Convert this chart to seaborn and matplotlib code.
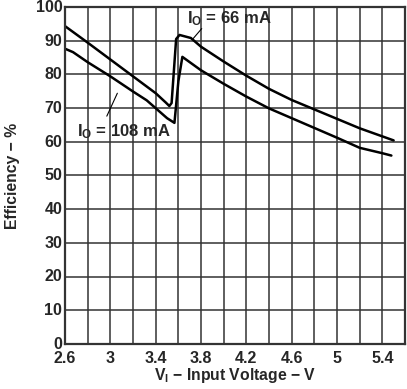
import numpy as np
import pandas as pd
import matplotlib
matplotlib.use("Agg")
import matplotlib.pyplot as plt
import matplotlib.transforms as mtransforms
import seaborn as sns

# efficiency curves
vin_66 = [2.6, 2.8, 3.0, 3.2, 3.4, 3.49, 3.52, 3.54, 3.58, 3.61, 3.71, 3.8,
          4.0, 4.2, 4.4, 4.6, 4.8, 5.0, 5.2, 5.4, 5.5]
eff_66 = [94.3, 89.4, 84.4, 79.4, 74.4, 71.6, 70.6, 71.5, 90.5, 91.7, 90.8, 88.2,
          83.8, 79.6, 75.7, 72.4, 69.6, 66.8, 64.0, 61.6, 60.4]

vin_108 = [2.6, 2.67, 2.8, 3.0, 3.2, 3.32, 3.5, 3.565, 3.6, 3.635, 3.8,
           4.0, 4.2, 4.4, 4.6, 4.8, 5.0, 5.2, 5.4, 5.48]
eff_108 = [87.6, 86.6, 83.6, 79.4, 74.9, 72.3, 67.0, 65.6, 78.0, 85.2, 81.2,
           77.2, 73.4, 69.9, 67.0, 64.1, 61.2, 58.2, 56.6, 55.9]

df = pd.concat([
    pd.DataFrame({"vin": vin_66, "eff": eff_66, "io": "66 mA"}),
    pd.DataFrame({"vin": vin_108, "eff": eff_108, "io": "108 mA"}),
])

sns.set_style("white")
plt.rcParams["font.family"] = ["Liberation Sans", "DejaVu Sans"]
plt.rcParams["font.weight"] = "bold"
plt.rcParams["mathtext.fontset"] = "custom"
plt.rcParams["mathtext.rm"] = "Liberation Sans:bold"
plt.rcParams["mathtext.it"] = "Liberation Sans:bold"
plt.rcParams["mathtext.bf"] = "Liberation Sans:bold"

fig = plt.figure(figsize=(4.07, 3.89), dpi=100)
ax = fig.add_axes([0.160, 0.116, 0.835, 0.866])

sns.lineplot(data=df, x="vin", y="eff", units="io", estimator=None, sort=False,
             color="black", linewidth=1.8, ax=ax)

ax.set_xlim(2.6, 5.6)
ax.set_ylim(0, 100)
ax.set_xticks(np.arange(2.6, 5.5, 0.4))
ax.set_xticklabels(["2.6", "3", "3.4", "3.8", "4.2", "4.6", "5", "5.4"])
ax.set_xticks(np.arange(2.6, 5.61, 0.2), minor=True)
ax.set_yticks(np.arange(0, 101, 10))
ax.grid(True, which="both", color="#333333", linewidth=1.1)
ax.set_axisbelow(True)
ax.tick_params(axis="x", which="both", length=0, labelsize=11.5, pad=5)
ax.tick_params(axis="y", which="both", length=0, labelsize=11.5, pad=2)
# y labels sit a little above their grid lines in the original
shift = mtransforms.ScaledTranslation(0, 0.8 / 72, fig.dpi_scale_trans)
for lbl in ax.get_yticklabels():
    lbl.set_transform(lbl.get_transform() + shift)
for s in ax.spines.values():
    s.set_color("#333333")
    s.set_linewidth(1.6)

ax.set_xlabel(r"V$_\mathregular{I}$ − Input Voltage − V", fontsize=11.3,
              fontweight="bold", labelpad=0)
ax.set_ylabel("Efficiency − %", fontsize=11.3, fontweight="bold", labelpad=11)

# curve labels with leader lines
ax.text(3.676, 96.6, r"I$_\mathregular{O}$ = 66 mA", fontsize=12, fontweight="bold",
        va="center", ha="left")
ax.annotate("", xy=(3.727, 90.5), xytext=(3.806, 93.6),
            arrowprops=dict(arrowstyle="-", color="black", lw=0.8,
                            shrinkA=0, shrinkB=0))
ax.text(2.706, 63.0, r"I$_\mathregular{O}$ = 108 mA", fontsize=12, fontweight="bold",
        va="center", ha="left")
ax.annotate("", xy=(3.061, 74.4), xytext=(2.968, 67.6),
            arrowprops=dict(arrowstyle="-", color="black", lw=0.8,
                            shrinkA=0, shrinkB=0))

fig.savefig("out.png", dpi=100)
